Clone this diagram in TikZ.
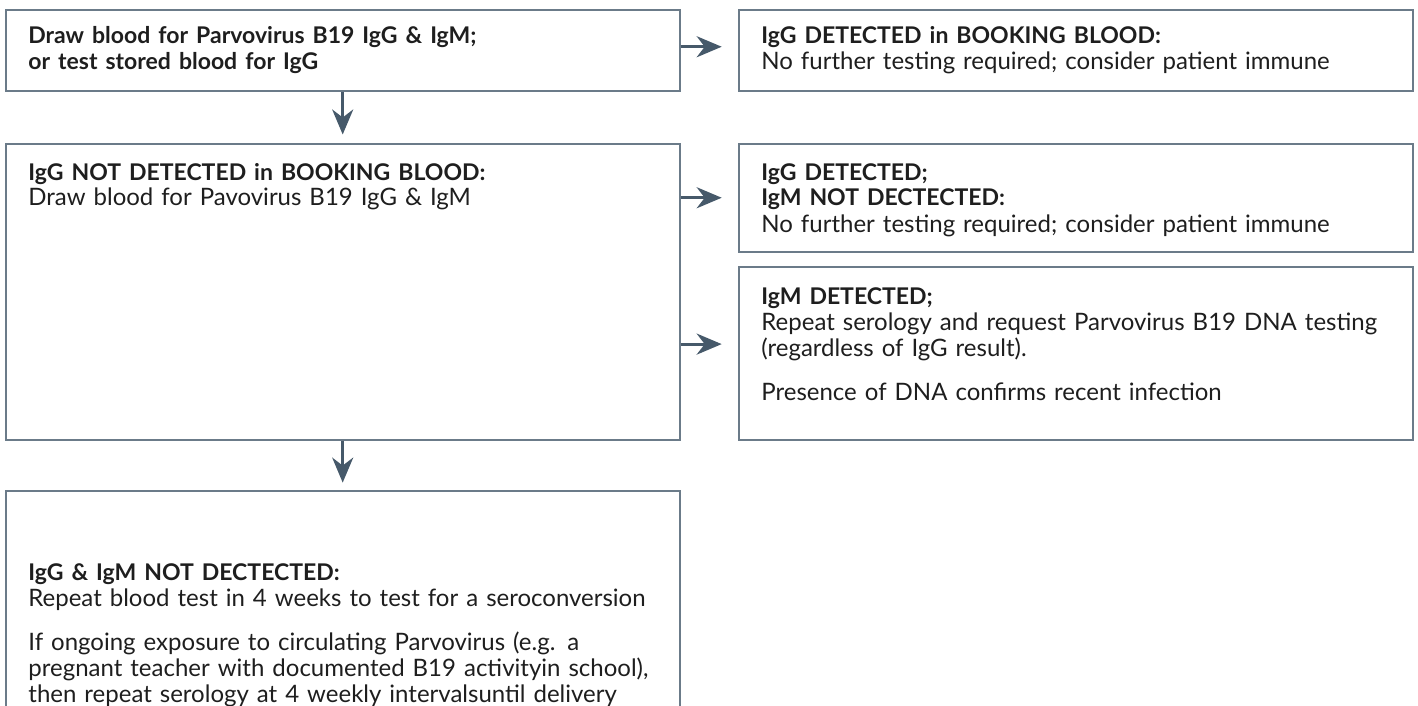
\documentclass[tikz,border=0pt]{standalone}
\usepackage{fontspec}
\setmainfont{Lato}
\usetikzlibrary{arrows.meta,positioning}
\definecolor{boxline}{HTML}{6B7B89}
\definecolor{flowline}{HTML}{46596A}
\definecolor{inktext}{HTML}{1E1E1E}
\newcommand{\hd}[1]{{\fontsize{11.5}{13}\selectfont\bfseries #1}}
\tikzset{
  panel/.style={draw=boxline, line width=1pt, anchor=north west, inner sep=0pt, minimum width=337pt},
  note/.style={anchor=base west, inner sep=0pt, text width=345pt, align=left, text=inktext,
    font=\fontsize{12}{13}\selectfont},
  flow/.style={draw=flowline, line width=1.5pt, -{Stealth[length=12.5pt,width=10.5pt,inset=4pt]}}
}

\begin{document}
\begin{tikzpicture}[x=0.5pt,y=-0.5pt]
  \useasboundingbox (0,0) rectangle (1418,706);

  % left column
  \node[panel, minimum height=40.75pt] (draw) at (4.7,9) {};
  \node[panel, minimum height=148pt] (notdet) at (4.7,142.5) {};
  \node[panel, minimum height=145pt] (both) at (4.7,490) {};

  % right column
  \node[panel, minimum height=40.75pt] (booked) at (737.7,9) {};
  \node[panel, minimum height=54.25pt] (igg) at (737.7,142.5) {};
  \node[panel, minimum height=86.4pt] (igm) at (737.7,265.7) {};

  % texts
  \node[note] (drawtxt) at (28,44)
    {\hd{Draw blood for Parvovirus B19 IgG \& IgM;}\\\hd{or test stored blood for IgG}};
  \node[note] (bookedtxt) at (761,44)
    {\hd{IgG DETECTED in BOOKING BLOOD:}\\No further testing required; consider patient immune};
  \node[note] (notdettxt) at (28,180)
    {\hd{IgG NOT DETECTED in BOOKING BLOOD:}\\Draw blood for Pavovirus B19 IgG \& IgM};
  \node[note] (iggtxt) at (761,180)
    {\hd{IgG DETECTED;}\\\hd{IgM NOT DECTECTED:}\\No further testing required; consider patient immune};
  \node[note] (igmtxt) at (761,304)
    {\hd{IgM DETECTED;}\\Repeat serology and request Parvovirus B19 DNA testing\\(regardless of IgG result).\\[9pt]
     Presence of DNA confirms recent infection};
  \node[note] (bothtxt) at (28,580)
    {\hd{IgG \& IgM NOT DECTECTED:}\\Repeat blood test in 4 weeks to test for a seroconversion\\[9pt]
     If ongoing exposure to circulating Parvovirus (e.g. a\\pregnant teacher with documented B19 activityin school),\\then repeat serology at 4 weekly intervalsuntil delivery};

  % arrows
  \draw[flow, shorten >=8pt] ([yshift=2pt]draw.east) -- ([yshift=2pt]booked.west);
  \draw[flow, shorten >=4pt] (draw) -- (notdet);
  \draw[flow, shorten >=8pt] (notdet.east |- igg) -- (igg);
  \draw[flow, shorten >=8pt] ([yshift=4.5pt]notdet.east |- igm.west) -- ([yshift=4.5pt]igm.west);
  \draw[flow, shorten >=3.7pt] (notdet) -- (both);
\end{tikzpicture}
\end{document}
